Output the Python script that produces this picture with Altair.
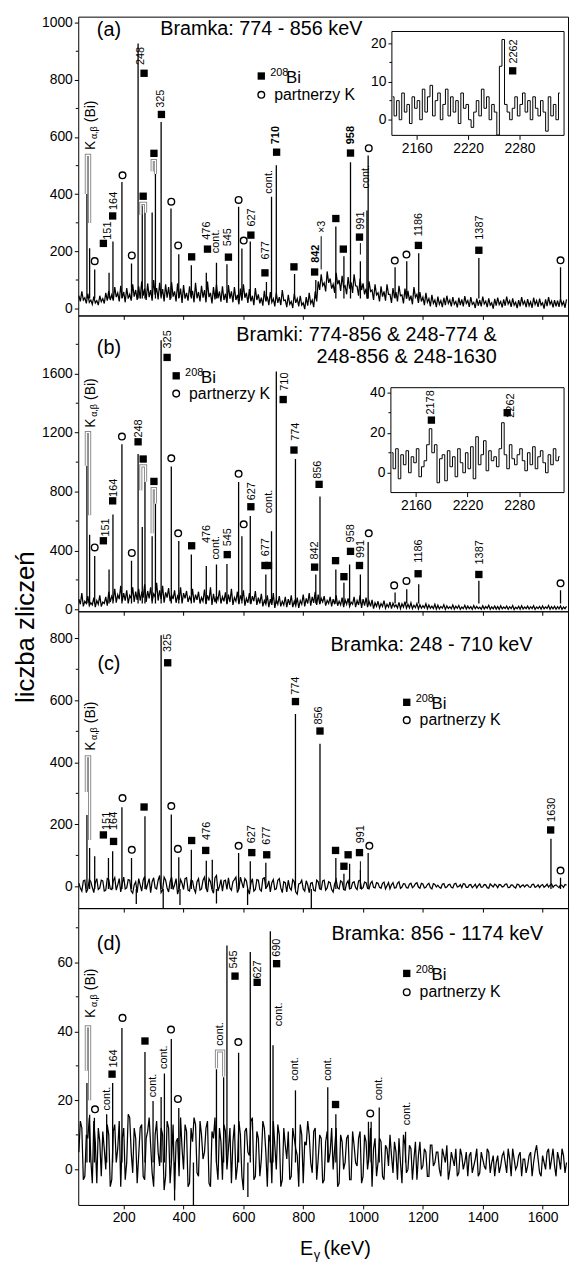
import altair as alt
import pandas as pd

FONT = "Liberation Sans"
W = 495
HEIGHTS = [302, 299, 300, 300]
X_DOMAIN = [48, 1685]
X_TICKS = [200, 400, 600, 800, 1000, 1200, 1400, 1600]
E_GRID = list(range(50, 1681, 10))   # channels 50,60,...,1680 keV
E_MID = list(range(55, 1676, 10))    # channels 55,65,...,1675 keV
INS_E = list(range(2132, 2328, 3))
ONE = pd.DataFrame({"k": [0]})

# ---------------- panel (a) ----------------
BG_A = [45, 60, 38, 52, 30, 42, 28, 45, 35, 55,
        62, 48, 75, 55, 80, 58, 72, 50, 85, 65,
        78, 95, 70, 88, 65, 100, 72, 90, 68, 85,
        75, 92, 60, 88, 70, 82, 55, 78, 62, 90,
        58, 80, 65, 95, 55, 75, 85, 60, 78, 52,
        82, 60, 75, 48, 70, 85, 55, 68, 45, 72,
        50, 38, 62, 42, 58, 35, 55, 40, 65, 30,
        48, 25, 52, 35, 45, 20, 40, 55, 30, 60,
        95, 120, 90, 130, 105, 85, 125, 100, 115, 80,
        110, 92, 120, 78, 105, 88, 70, 95, 65, 85,
        55, 78, 60, 85, 50, 72, 58, 80, 48, 70,
        62, 45, 75, 50, 58, 40, 55, 35, 48, 30,
        42, 28, 38, 45, 30, 40, 25, 38, 32, 44,
        28, 40, 22, 35, 30, 42, 26, 36, 20, 34,
        38, 25, 32, 42, 28, 36, 22, 30, 40, 26,
        33, 24, 38, 28, 35, 20, 32, 40, 26, 30,
        28, 36, 24, 32]
BG_A_MID = [25, 30, 18, 22, 15, 20, 12, 24, 18, 28,
            30, 28, 40, 25, 38, 22, 35, 28, 42, 30,
            35, 45, 30, 40, 28, 48, 32, 42, 25, 38,
            30, 42, 25, 38, 20, 35, 28, 40, 22, 36,
            25, 38, 22, 40, 18, 32, 36, 24, 30, 20,
            35, 22, 30, 15, 28, 38, 20, 25, 12, 30,
            18, 10, 25, 12, 22, 8, 20, 12, 28, 5,
            15, 2, 20, 8, 12, -2, 10, 18, 5, 25,
            65, 80, 60, 90, 70, 55, 85, 62, 75, 50,
            70, 55, 80, 45, 65, 50, 35, 60, 30, 48,
            25, 42, 28, 50, 20, 38, 25, 45, 18, 35,
            28, 15, 40, 20, 25, 12, 22, 8, 18, 5,
            15, 5, 12, 18, 8, 15, 4, 12, 8, 18,
            6, 15, 2, 10, 8, 16, 5, 12, 0, 10,
            14, 4, 10, 16, 6, 12, 2, 8, 15, 5,
            10, 3, 14, 6, 12, 0, 9, 15, 4, 8,
            6, 12, 3]
PK_A_E = [77, 86, 103, 151, 164, 194, 226, 248, 262, 271,
          295, 306, 325, 358, 384, 426, 476, 510, 545, 584,
          595, 623, 677, 694, 710, 771, 842, 909, 936, 958,
          991, 1013, 1017, 1107, 1146, 1186, 1387, 1660]
PK_A_H = [401, 211, 137, 125, 235, 443, 158, 927, 360, 350,
          336, 471, 653, 350, 190, 152, 125, 160, 155, 356,
          210, 235, 93, 391, 501, 121, 100, 287, 183, 512,
          166, 343, 535, 145, 166, 194, 177, 145]
SQ_A_E = [132, 163, 268, 265, 301, 326, 427, 480, 550, 625, 672, 711, 769, 838, 909, 934, 958, 988, 1185, 1387]
SQ_A_Y = [228, 324, 823, 393, 543, 679, 181, 208, 180, 257, 125, 547, 146, 128, 315, 208, 544, 250, 221, 204]
CI_A_E = [103, 196, 227, 359, 382, 584, 601, 1019, 1106, 1145, 1660]
CI_A_Y = [166, 466, 186, 374, 221, 380, 238, 561, 168, 189, 169]
LB_A_E = [146.5, 166, 259, 325, 477, 510, 548, 628, 675, 686, 708, 843, 864, 961, 994, 1010, 1186, 1390]
LB_A_Y = [241, 345, 852, 702, 241, 194, 218, 287, 172, 402, 575, 160, 264, 575, 276, 420, 253, 241]
LB_A_T = ["151", "164", "248", "325", "476", "cont.", "545", "627", "677", "cont.", "710", "842", "\u00d73",
          "958", "991", "cont.", "1186", "1387"]
BOLD_A = ["710", "842", "958"]
BR_A = dict(e1=[75, 257, 295], e2=[86, 273, 306], top=[536, 368, 518], l=[401, 328, 480], r=[299, 335, 471])
LD_A = dict(e=[860, 991], y1=[253, 229], y2=[137, 189])
INS_A = [6, 1, 5, 0, 7, 2, 4, -1, 6, 3,
         5, 0, 8, 2, 6, 9, 1, 5, 7, 0,
         4, 8, 1, 6, 2, 5, -1, 7, 3, 4,
         0, -2, 2, 5, 1, 8, 3, 6, 0, 4,
         2, -4, 14, 21, 4, 2, 0, 3, 6, 1,
         4, 7, 2, 5, 0, 6, 3, 1, 5, 2,
         -3, 6, 1, 4, 0, 7]

# ---------------- panel (b) ----------------
BG_B = [70, 110, 55, 90, 45, 80, 60, 95, 50, 85,
        120, 90, 140, 100, 160, 110, 130, 95, 150, 120,
        140, 110, 170, 125, 150, 105, 180, 130, 160, 115,
        145, 100, 130, 90, 150, 110, 125, 85, 140, 100,
        120, 80, 135, 95, 150, 105, 90, 130, 85, 115,
        100, 140, 80, 120, 95, 130, 75, 110, 90, 125,
        80, 105, 60, 95, 70, 110, 65, 90, 55, 85,
        70, 95, 55, 80, 60, 100, 75, 110, 85, 120,
        100, 75, 90, 60, 85, 70, 95, 55, 80, 65,
        75, 50, 85, 60, 95, 70, 80, 55, 65, 45,
        55, 40, 60, 35, 50, 42, 30, 48, 38, 52,
        35, 45, 28, 40, 32, 25, 38, 30, 22, 35,
        28, 20, 32, 24, 18, 30, 22, 26, 16, 28,
        22, 18, 26, 20, 15, 24, 19, 28, 17, 23,
        20, 25, 16, 22, 18, 26, 15, 21, 24, 17,
        22, 18, 25, 16, 20, 23, 17, 26, 19, 21,
        18, 24, 16, 20]
BG_B_MID = [35, 20, 40, 25, 30, 15, 35, 20, 40, 25,
            50, 65, 45, 70, 55, 60, 40, 75, 50, 65,
            60, 80, 50, 75, 55, 85, 60, 70, 45, 80,
            55, 70, 45, 65, 40, 75, 50, 60, 45, 65,
            40, 55, 35, 60, 30, 50, 65, 40, 55, 35,
            50, 30, 55, 35, 60, 25, 45, 35, 55, 30,
            40, 20, 35, 15, 30, 10, 35, 20, 30, 15,
            30, 15, 25, 10, 35, 20, 40, 25, 45, 30,
            35, 50, 25, 40, 20, 35, 25, 30, 15, 35,
            20, 35, 15, 30, 10, 25, 15, 20, 5, 20,
            10, 20, 8, 15, 5, 18, 10, 5, 15, 8,
            10, 5, 12, 3, 8, 10, 4, 8, 5, 2,
            3, 8, 0, 6, 4, 2, 7, 0, 5, 2,
            5, 0, 4, 6, 1, 3, 7, 0, 4, 2,
            0, 4, 6, 1, 5, -1, 4, 1, 3, 5,
            2, 5, 0, 6, 1, 3, 6, 0, 4, 1,
            4, 0, 5]
PK_B_E = [77, 86, 103, 151, 164, 194, 226, 248, 262, 271,
          295, 306, 325, 359, 384, 426, 476, 510, 545, 584,
          595, 623, 675, 694, 710, 774, 842, 856, 909, 936,
          955, 991, 1017, 1107, 1146, 1186, 1387, 1660]
PK_B_H = [976, 506, 363, 271, 645, 1122, 331, 1055, 560, 867,
          497, 719, 1828, 970, 464, 372, 295, 305, 309, 865,
          497, 634, 237, 531, 1615, 1021, 237, 766, 271, 181,
          305, 237, 457, 114, 137, 170, 195, 130]
SQ_B_E = [132, 163, 248, 265, 301, 345, 427, 546, 625, 672, 684, 733, 769, 838, 853, 908, 936, 958, 988, 1184, 1387]
SQ_B_Y = [466, 737, 1138, 1021, 869, 1711, 432, 372, 697, 298, 298, 1425, 1082, 287, 849, 331, 222, 394, 298, 242, 237]
CI_B_E = [103, 194, 227, 359, 382, 584, 601, 1019, 1104, 1145, 1660]
CI_B_Y = [421, 1174, 383, 1026, 517, 921, 578, 517, 163, 193, 177]
LB_B_E = [141, 166, 251, 347, 477, 510, 548, 628, 675, 686, 738, 777, 840, 848, 961, 994, 1186, 1390]
LB_B_Y = [495, 764, 1167, 1772, 450, 338, 428, 741, 361, 652, 1485, 1145, 338, 887, 455, 349, 316, 305]
LB_B_T = ["151", "164", "248", "325", "476", "cont.", "545", "627", "677", "cont.", "710", "774", "842",
          "856", "958", "991", "1186", "1387"]
BR_B = dict(e1=[75, 257, 295], e2=[86, 273, 306], top=[1201, 974, 820], l=[976, 809, 517], r=[640, 867, 719])
INS_B = [10, 2, 12, -3, 9, 4, 11, 0, 8, 5,
         12, -2, 3, 6, 14, 22, 10, 14, -5, 7,
         9, -4, 11, 3, 8, -2, 12, 5, 0, 10,
         2, 13, -3, 18, 4, 9, 16, 1, 11, 6,
         8, 3, 12, 25, 9, 2, 14, 7, 4, 9,
         12, 6, 1, 10, 4, 13, 2, 8, 11, 5,
         0, 9, 4, 12, 6, 8]

# ---------------- panel (c) ----------------
BG_C = [10, -15, 20, -8, 15, -20, 25, -5, 18, -12,
        22, -10, 28, 5, -18, 30, -5, 20, -22, 15,
        25, -15, 32, 8, -20, 28, -8, 35, -12, 20,
        -18, 30, 5, -25, 22, -10, 28, -15, 18, -20,
        25, -8, 30, -18, 15, -22, 35, 0, -15, 20,
        28, -12, 22, -20, 30, -5, 18, -25, 25, -10,
        20, -15, 28, 0, -18, 22, -8, 25, -20, 12,
        20, -12, 15, -25, 10, -8, 18, -20, 12, -15,
        15, -10, 20, -5, 12, -18, 22, -8, 14, -12,
        18, -6, 15, -10, 20, -4, 12, -8, 16, -5,
        10, -6, 14, 2, -8, 12, -4, 15, -2, 8,
        -5, 10, 0, 12, -6, 8, -3, 10, -8, 6,
        4, -6, 9, -2, 7, -5, 10, 0, -4, 8,
        -3, 6, 1, -5, 8, -2, 5, -6, 3, 7,
        -4, 5, 0, 8, -3, 4, -5, 6, 2, -2,
        5, -3, 7, 0, -4, 6, 1, -2, 8, 3,
        0, 5, -3, 4]
BG_C_MID = [-5, 18, -20, 22, -3, 12, -10, 20, -15, 25,
            -8, 18, -12, 25, 10, -8, 22, -15, 5, -20,
            5, 20, -10, 25, 15, -5, 20, -20, 30, -5,
            15, -10, 25, -8, 10, 25, -12, 20, -8, 15,
            -12, 20, -5, 25, -10, 28, -15, 22, 18, -10,
            -5, 15, 30, -8, 12, 25, -10, 10, -15, 22,
            -10, 25, -5, 18, 12, -10, 20, -5, 15, -18,
            -5, 22, -18, 8, 20, -15, 5, 10, -12, 20,
            -8, 18, -12, 15, -10, 8, -5, 18, -10, 10,
            -8, 12, -4, 18, -8, 14, -6, 10, -3, 12,
            -3, 10, -8, 12, 5, -5, 10, -6, 9, -4,
            7, -4, 9, -2, 10, -5, 6, -4, 9, -2,
            -3, 7, -4, 5, -3, 8, -2, 6, 9, -3,
            5, -4, 7, 3, -3, 6, -4, 8, -2, 4,
            6, -2, 7, -4, 5, -2, 7, -3, 5, 4,
            -2, 6, -3, 5, 3, -3, 7, 4, -3, 5,
            -4, 3, 6]
PK_C_E = [77, 86, 103, 149, 163, 194, 226, 242, 271, 325,
          332, 359, 384, 388, 426, 476, 496, 510, 584, 614,
          623, 675, 774, 827, 856, 909, 936, 955, 991, 1017,
          1628, 1660]
PK_C_H = [230, 124, 97, 92, 113, 255, 92, -57, 226, 810,
          -75, 232, 94, -60, 118, 83, 86, -55, 108, -60,
          81, 76, 556, -75, 460, 92, 41, 73, 52, 108,
          154, 28]
SQ_C_E = [132, 166, 268, 347, 427, 474, 628, 678, 774, 856, 908, 936, 950, 988, 1627]
SQ_C_Y = [166, 145, 256, 721, 148, 116, 109, 102, 596, 501, 116, 65, 102, 109, 182]
CI_C_E = [196, 227, 359, 381, 584, 1021, 1660]
CI_C_Y = [285, 118, 259, 121, 131, 131, 51]
LB_C_E = [143, 166, 347, 477, 628, 678, 777, 853, 992, 1632]
LB_C_Y = [182, 182, 756, 150, 139, 134, 618, 522, 139, 208]
LB_C_T = ["151", "164", "325", "476", "627", "677", "774", "856", "991", "1630"]
BR_C = dict(e1=[75], e2=[86], top=[418], l=[304], r=[150])
LD_C = dict(e=[991], y1=[81], y2=[49])

# ---------------- panel (d) ----------------
BG_D = [5, 12, -2, 9, 3, 14, -4, 8, 11, 0,
        10, -3, 13, 6, -5, 12, 2, 15, -1, 9,
        4, 13, -3, 11, 7, -5, 14, 1, 10, -2,
        12, 3, -6, 9, 15, 0, 11, -4, 8, 13,
        -2, 10, 5, 14, -5, 9, 2, 12, -3, 11,
        6, -4, 13, 1, 10, -6, 12, 4, 15, -2,
        9, 3, 12, -5, 8, 14, 0, 10, -3, 7,
        11, -2, 9, 4, 13, -4, 7, 10, -1, 12,
        3, 9, -3, 11, 5, 0, 12, -4, 8, 2,
        10, -3, 7, 1, 11, -2, 8, 4, -5, 9,
        2, 8, -3, 6, 10, -1, 5, 9, -4, 7,
        0, 6, 3, -3, 8, 1, 5, -2, 7, 2,
        5, -2, 4, 7, 0, 3, 6, -1, 4, 2,
        -2, 5, 1, 6, -1, 3, 0, 5, 2, -2,
        4, 1, 5, -1, 3, 6, 0, 4, -2, 3,
        1, 5, 2, 7, -1, 4, 0, 6, 3, 1,
        5, 0, 4, 2]
BG_D_MID = [14, -3, 10, 15, -4, 8, 12, -2, 6, 13,
            -5, 11, 2, 14, 9, -3, 16, 5, 12, -4,
            12, -2, 9, 15, -1, 10, 5, 12, -6, 14,
            -4, 13, 8, -2, 6, 13, -5, 12, 15, -1,
            14, 3, 12, -4, 11, 15, -3, 8, 13, 0,
            12, 8, -3, 14, -2, 11, 5, 14, -3, 11,
            -2, 14, 5, 10, -4, 7, 13, -5, 12, 3,
            -3, 12, 6, -5, 10, 8, 14, 2, 11, -3,
            10, -4, 8, 2, 12, 6, -5, 10, 0, 9,
            -3, 11, 2, 9, -4, 10, 0, 12, 6, -2,
            9, -2, 7, 1, 4, 8, -3, 2, 10, -1,
            7, -3, 8, 4, 0, 6, -2, 7, 1, 5,
            0, 6, 2, -3, 5, 1, -2, 6, 0, 5,
            4, -1, 3, -2, 5, 1, 6, -1, 4, 2,
            -1, 4, 2, 6, -2, 3, 1, 5, 3, -1,
            4, -2, 5, 3, -2, 2, 5, 0, 6, -2,
            3, 6, -1]
PK_D_E = [77, 86, 102, 143, 163, 194, 271, 298, 325, 336,
          359, 370, 384, 433, 510, 534, 545, 584, 615, 623,
          690, 699, 774, 882, 909, 1018, 1027, 1054, 1142]
PK_D_H = [25, 15.8, 15, 16, 25, 41, 34, 19.8, 21, 27.8,
          37.8, -9, 17.8, -11, 29, 26.7, 64.9, 33.8, -8, 63,
          69, 36, 22.9, 23.8, 16, 13.8, 13.8, 17.9, 10.9]
SQ_D_E = [161, 271, 572, 646, 711, 908]
SQ_D_Y = [27.6, 37.2, 56, 54.2, 59.6, 18.8]
CI_D_E = [104, 196, 358, 381, 583, 1024]
CI_D_Y = [17.4, 43.9, 40.5, 20.4, 36.9, 16.2]
LB_D_E = [144, 166, 298, 334, 521, 570, 650, 713, 719, 774, 882, 1054, 1146]
LB_D_Y = [17.1, 29.5, 20.9, 29.1, 35.8, 58.2, 55.3, 61.6, 41.5, 25.7, 25.7, 20, 12.8]
LB_D_T = ["cont.", "164", "cont.", "cont.", "cont.", "545", "627", "690", "cont.", "cont.", "cont.", "cont.", "cont."]
BR_D = dict(e1=[75, 510], e2=[86, 534], top=[41.3, 34.3], l=[28.6, 29.3], r=[20, 26.9])

PANELS = [
    dict(bg=BG_A, bgm=BG_A_MID, ydom=[-24, 1021], yticks=[0, 200, 400, 600, 800, 1000],
         minor=[100, 300, 500, 700, 900], foot=35, pkE=PK_A_E, pkH=PK_A_H, sqE=SQ_A_E, sqY=SQ_A_Y,
         ciE=CI_A_E, ciY=CI_A_Y, lbE=LB_A_E, lbY=LB_A_Y, lbT=LB_A_T, bold=BOLD_A, br=BR_A, ld=LD_A, kaY=555),
    dict(bg=BG_B, bgm=BG_B_MID, ydom=[-13, 1996], yticks=[0, 400, 800, 1200, 1600],
         minor=[200, 600, 1000, 1400, 1800], foot=40, pkE=PK_B_E, pkH=PK_B_H, sqE=SQ_B_E, sqY=SQ_B_Y,
         ciE=CI_B_E, ciY=CI_B_Y, lbE=LB_B_E, lbY=LB_B_Y, lbT=LB_B_T, bold=[], br=BR_B, ld=None, kaY=1234),
    dict(bg=BG_C, bgm=BG_C_MID, ydom=[-70, 887], yticks=[0, 200, 400, 600, 800],
         minor=[100, 300, 500, 700], foot=-8, pkE=PK_C_E, pkH=PK_C_H, sqE=SQ_C_E, sqY=SQ_C_Y,
         ciE=CI_C_E, ciY=CI_C_Y, lbE=LB_C_E, lbY=LB_C_Y, lbT=LB_C_T, bold=[], br=BR_C, ld=LD_C, kaY=437),
    dict(bg=BG_D, bgm=BG_D_MID, ydom=[-10.3, 75.7], yticks=[0, 20, 40, 60],
         minor=[10, 30, 50, 70], foot=2, pkE=PK_D_E, pkH=PK_D_H, sqE=SQ_D_E, sqY=SQ_D_Y,
         ciE=CI_D_E, ciY=CI_D_Y, lbE=LB_D_E, lbY=LB_D_Y, lbT=LB_D_T, bold=[], br=BR_D, ld=None, kaY=43.9),
]

INSETS = {
    0: dict(vals=INS_A, x0=317, x1=491, y0=15, y1=120, ydom=[-4.1, 23.1], yticks=[0, 10, 20], minor=[5, 15],
            sqE=[2272], sqY=[12.8], lbE=[2274], lbY=[14.7], lbT=["2262"]),
    1: dict(vals=INS_B, x0=316, x1=491, y0=73, y1=179, ydom=[-9.9, 42.5], yticks=[0, 20, 40], minor=[10, 30],
            sqE=[2178, 2266], sqY=[26.3, 30], lbE=[2178, 2271], lbY=[29.1, 27.5], lbT=["2178", "2262"]),
}

AX = dict(labelFont=FONT, labelFontSize=14, labelColor="black", tickColor="black", domain=False,
          grid=False, title=None, labelPadding=2, format="d")


def txt(s, x, y, size, align="center", baseline="middle", angle=0, dx=0, dy=0, weight="normal"):
    return alt.Chart(ONE).mark_text(text=s, font=FONT, fontSize=size, align=align, baseline=baseline,
                                    angle=angle, dx=dx, dy=dy, fontWeight=weight, color="black").encode(
        x=alt.value(x), y=alt.value(y))


def legend(sx, sy, cy):
    return [
        alt.Chart(ONE).mark_point(shape="square", filled=True, size=55, color="black", opacity=1).encode(
            x=alt.value(sx), y=alt.value(sy)),
        txt("208", sx + 9, sy - 3, 11, align="left"),
        txt("Bi", sx + 25, sy + 2, 17, align="left"),
        alt.Chart(ONE).mark_point(shape="circle", filled=False, size=45, color="black", strokeWidth=1.4,
                                  opacity=1).encode(x=alt.value(sx), y=alt.value(cy)),
        txt("partnerzy K", sx + 13, cy, 16, align="left"),
    ]


PANEL_TEXT = {
    0: [txt("(a)", 31, 14, 20), txt("Bramka: 774 - 856 keV", 185, 13, 20)] + legend(185, 60, 79),
    1: [txt("(b)", 31, 33, 20), txt("Bramki: 774-856 & 248-774 &", 423, 20, 20, align="right"),
        txt("248-856 & 248-1630", 423, 42, 20, align="right")] + legend(99, 61, 79),
    2: [txt("(c)", 31, 53, 20), txt("Bramka: 248 - 710 keV", 357, 34, 20)] + legend(332, 92, 110)
       + [txt("liczba zlicze\u0144", -53, 16, 26, angle=270)],
    3: [txt("(d)", 31, 36, 20), txt("Bramka: 856 - 1174 keV", 363, 26, 20)] + legend(332, 66, 85)
       + [txt("E", 224, 345, 20, align="left"), txt("\u03b3", 238, 351, 13, align="left"),
          txt("(keV)", 248, 345, 20, align="left")],
}


def build_panel(i, p, H, bottom):
    xs = alt.Scale(domain=X_DOMAIN, nice=False, zero=False)
    ys = alt.Scale(domain=p["ydom"], nice=False, zero=False)
    xaxis = alt.Axis(values=X_TICKS, labels=bottom, tickSize=4, labelFlush=False, **AX)
    yaxis = alt.Axis(values=p["yticks"], tickSize=4, **AX)

    def X(f="E"):
        return alt.X(f"{f}:Q", scale=xs, axis=xaxis)

    def Y(f="c"):
        return alt.Y(f"{f}:Q", scale=ys, axis=yaxis)

    layers = []
    bg = pd.concat([pd.DataFrame({"E": E_GRID, "c": p["bg"]}),
                    pd.DataFrame({"E": E_MID, "c": p["bgm"]})]).sort_values("E")
    layers.append(alt.Chart(bg).mark_line(color="black", strokeWidth=1.25, clip=True).encode(x=X(), y=Y()))

    pk = pd.DataFrame({"E": p["pkE"], "c": p["pkH"], "f": [p["foot"]] * len(p["pkE"])})
    layers.append(alt.Chart(pk).mark_rule(color="black", strokeWidth=1.3, clip=True).encode(
        x=X(), y=Y(), y2="f:Q"))

    mn = pd.DataFrame({"v": p["minor"]})
    layers.append(alt.Chart(mn).mark_rule(color="black", strokeWidth=1).encode(
        x=alt.value(-2.5), x2=alt.value(0), y=Y("v")))

    br = p["br"]
    rows = []
    for k, (e1, e2, t, l, r) in enumerate(zip(br["e1"], br["e2"], br["top"], br["l"], br["r"])):
        rows += [dict(b=k, o=0, E=e1, c=l), dict(b=k, o=1, E=e1, c=t),
                 dict(b=k, o=2, E=e2, c=t), dict(b=k, o=3, E=e2, c=r)]
    brdf = pd.DataFrame(rows)
    layers.append(alt.Chart(brdf).mark_line(color="#8c8c8c", strokeWidth=3.2, strokeJoin="miter").encode(
        x=X(), y=Y(), detail="b:N", order="o:Q"))
    layers.append(alt.Chart(brdf).mark_line(color="white", strokeWidth=1.2, strokeJoin="miter").encode(
        x=X(), y=Y(), detail="b:N", order="o:Q"))

    if p["ld"]:
        ld = pd.DataFrame({"E": p["ld"]["e"], "c": p["ld"]["y1"], "c2": p["ld"]["y2"]})
        layers.append(alt.Chart(ld).mark_rule(color="black", strokeWidth=1).encode(
            x=X(), y=Y(), y2="c2:Q"))

    sq = pd.DataFrame({"E": p["sqE"], "c": p["sqY"]})
    layers.append(alt.Chart(sq).mark_point(shape="square", filled=True, size=55, color="black",
                                           opacity=1).encode(x=X(), y=Y()))
    ci = pd.DataFrame({"E": p["ciE"], "c": p["ciY"]})
    layers.append(alt.Chart(ci).mark_point(shape="circle", filled=False, size=45, color="black",
                                           strokeWidth=1.4, opacity=1).encode(x=X(), y=Y()))

    lb = pd.DataFrame({"E": p["lbE"], "c": p["lbY"], "t": p["lbT"]})
    lb["w"] = ["bold" if t in p["bold"] else "normal" for t in lb["t"]]
    for w in ["normal", "bold"]:
        sub = lb[lb["w"] == w]
        if len(sub):
            layers.append(alt.Chart(sub).mark_text(angle=270, align="left", baseline="middle", fontSize=11,
                                                   font=FONT, fontWeight=w, color="black").encode(
                x=X(), y=Y(), text="t:N"))

    ka = pd.DataFrame({"E": [91.5], "c": [p["kaY"]]})
    for s, dx, dy, fs in [("K", 0, 0, 14), ("\u03b1,\u03b2", 11, 3, 9), ("(Bi)", 28, 0, 14)]:
        layers.append(alt.Chart(ka).mark_text(text=s, angle=270, align="left", baseline="middle", fontSize=fs,
                                              font=FONT, dx=dx, dy=dy, color="black").encode(x=X(), y=Y()))

    layers += PANEL_TEXT[i]
    main = alt.layer(*layers)

    if i in INSETS:
        ins = INSETS[i]
        ixs = alt.Scale(domain=[2131, 2332], range=[ins["x0"], ins["x1"]], nice=False, zero=False)
        iys = alt.Scale(domain=ins["ydom"], range=[ins["y1"], ins["y0"]], nice=False, zero=False)
        ixa = alt.Axis(orient="bottom", offset=-(H - ins["y1"]), values=[2160, 2220, 2280], tickSize=4, **AX)
        iya = alt.Axis(orient="left", offset=-ins["x0"], values=ins["yticks"], tickSize=4, **AX)

        def IX(f="E"):
            return alt.X(f"{f}:Q", scale=ixs, axis=ixa)

        def IY(f="c"):
            return alt.Y(f"{f}:Q", scale=iys, axis=iya)

        frame = alt.Chart(ONE).mark_rect(fill="white", stroke="black", strokeWidth=1).encode(
            x=alt.value(ins["x0"]), x2=alt.value(ins["x1"]), y=alt.value(ins["y0"]), y2=alt.value(ins["y1"]))
        idf = pd.DataFrame({"E": INS_E, "c": ins["vals"]})
        iline = alt.Chart(idf).mark_line(color="black", strokeWidth=1, interpolate="step").encode(x=IX(), y=IY())
        imn = alt.Chart(pd.DataFrame({"v": ins["minor"]})).mark_rule(color="black").encode(
            x=alt.value(ins["x0"] - 2.5), x2=alt.value(ins["x0"]), y=IY("v"))
        isq = alt.Chart(pd.DataFrame({"E": ins["sqE"], "c": ins["sqY"]})).mark_point(
            shape="square", filled=True, size=55, color="black", opacity=1).encode(x=IX(), y=IY())
        ilb = alt.Chart(pd.DataFrame({"E": ins["lbE"], "c": ins["lbY"], "t": ins["lbT"]})).mark_text(
            angle=270, align="left", baseline="middle", fontSize=11, font=FONT, color="black").encode(
            x=IX(), y=IY(), text="t:N")
        inset = alt.layer(frame, iline, imn, isq, ilb)
        chart = alt.layer(main, inset).resolve_scale(x="independent", y="independent")
    else:
        chart = main
    return chart.properties(width=W, height=H)


panels = [build_panel(i, p, HEIGHTS[i], i == 3) for i, p in enumerate(PANELS)]

chart = alt.vconcat(*panels, spacing=0, bounds="flush").properties(
    padding={"left": 4, "top": 0, "right": 0, "bottom": 0}, background="white"
).configure_view(stroke="black", strokeWidth=1)

chart.save("out.html", embed_options={"renderer": "svg", "actions": False})
